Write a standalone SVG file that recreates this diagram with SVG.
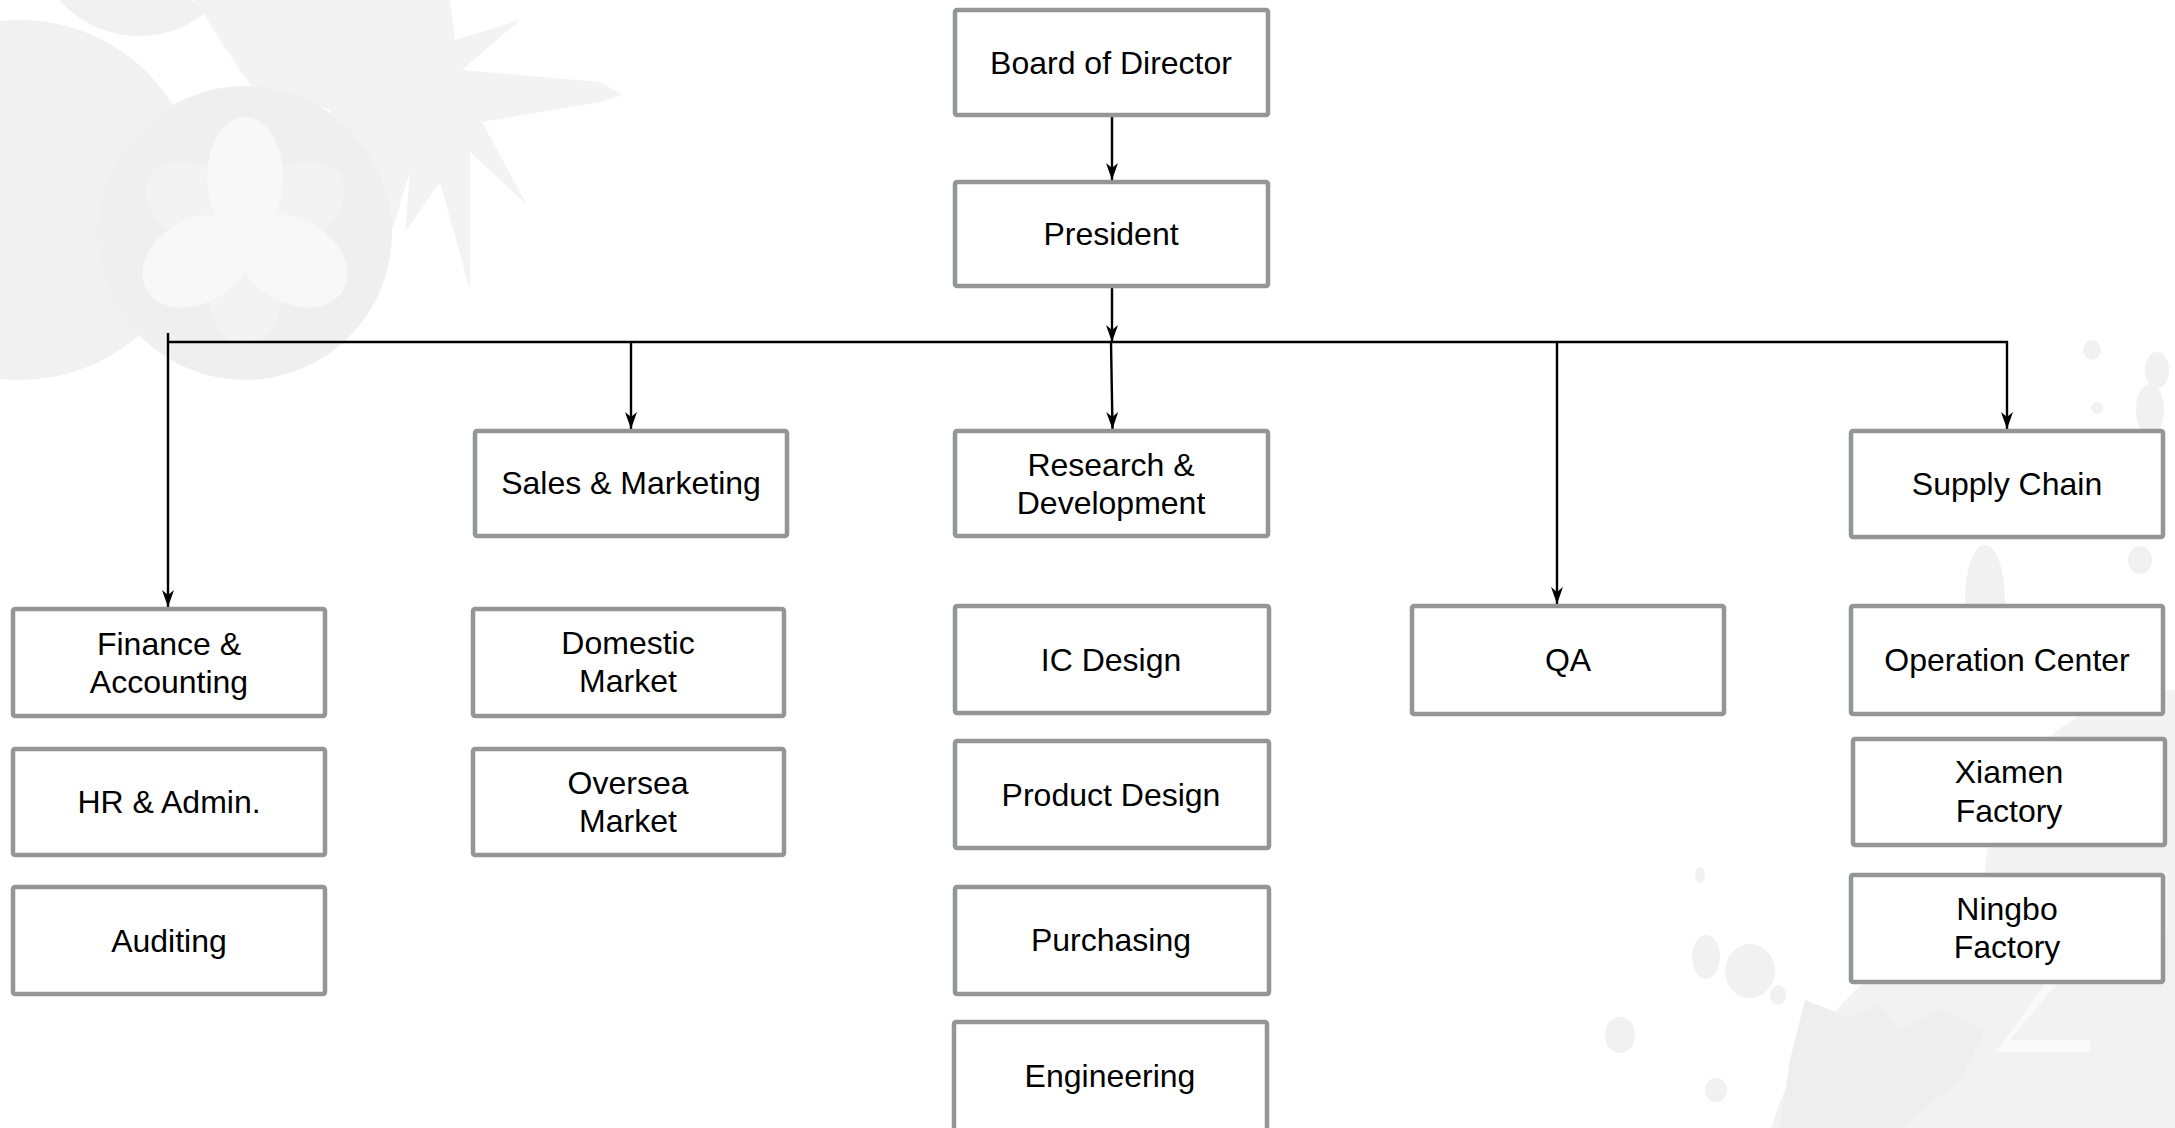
<svg xmlns="http://www.w3.org/2000/svg" width="2175" height="1128" viewBox="0 0 2175 1128">
  <style>
    .box { fill: #ffffff; stroke: #939598; stroke-width: 4.5; }
    .lbl { font-family: "Liberation Sans", Arial, sans-serif; font-size: 32px; fill: #000000; text-anchor: middle; }
    .conn { fill: none; stroke: #000000; stroke-width: 2.4; }
    .bg1 { fill: #f1f1f1; }
    .bg2 { fill: #ededed; }
    .petal { fill: #f8f8f8; }
    .petalb { fill: #f3f3f3; }
  </style>
  <defs>
    <marker id="arrow" viewBox="-18 -7 19 14" refX="0" refY="0" markerWidth="19" markerHeight="14" markerUnits="userSpaceOnUse" orient="auto">
      <path d="M0,0 L-17,-6 L-12,0 L-17,6 Z" fill="#000000"/>
    </marker>
  </defs>
  <rect x="0" y="0" width="2175" height="1128" fill="#ffffff"/>
  <g id="background">
    <circle class="bg2" cx="-150" cy="200" r="165"/>
    <circle class="bg1" cx="20" cy="200" r="180"/>
    <circle class="bg1" cx="139" cy="-70" r="106"/>
    <circle cx="215" cy="-25" r="35" fill="#f8f8f8"/>
    <path d="M195,0 L450,0 L455,40 L520,20 L462,70 L600,82 L622,95 L600,102 L482,122 L527,205 L470,152 L470,290 L440,182 L405,232 L410,172 L382,262 L368,200 L330,110 L250,85 L220,40 Z" fill="#f3f3f3"/>
    <circle cx="245" cy="233" r="147" fill="#efefef"/>
    <ellipse class="petalb" cx="293" cy="205" rx="38" ry="56" transform="rotate(-120 293 205)"/>
    <ellipse class="petalb" cx="197" cy="205" rx="38" ry="56" transform="rotate(120 197 205)"/>
    <ellipse class="petalb" cx="245" cy="289" rx="38" ry="56"/>
    <ellipse class="petal" cx="245" cy="177" rx="38" ry="60"/>
    <ellipse class="petal" cx="197" cy="261" rx="42" ry="58" transform="rotate(60 197 261)"/>
    <ellipse class="petal" cx="293" cy="261" rx="42" ry="58" transform="rotate(-60 293 261)"/>
    <circle cx="2175" cy="880" r="190" fill="#f3f3f3"/>
    <circle cx="2060" cy="1210" r="300" fill="#f2f2f2"/>
    <path d="M1805,1000 L1850,1018 L1880,1005 L1900,1030 L1940,1010 L1985,1030 L1960,1080 L1900,1128 L1780,1128 L1790,1060 Z" fill="#eeeeee"/>
    <path d="M1990,1060 L2070,950 L2078,958 L2010,1040 L2090,1040 L2090,1052 L1995,1052 Z" fill="#fafafa"/>
    <ellipse class="bg1" cx="1750" cy="971" rx="25" ry="27"/>
    <ellipse class="bg1" cx="1706" cy="957" rx="14" ry="22"/>
    <ellipse class="bg1" cx="1620" cy="1035" rx="15" ry="18"/>
    <ellipse class="bg1" cx="1716" cy="1090" rx="11" ry="12"/>
    <ellipse class="bg1" cx="1778" cy="995" rx="8" ry="10"/>
    <ellipse class="bg1" cx="1700" cy="875" rx="5" ry="8"/>
    <ellipse class="bg1" cx="1985" cy="600" rx="20" ry="55"/>
    <ellipse class="bg1" cx="2092" cy="350" rx="9" ry="10"/>
    <ellipse class="bg1" cx="2157" cy="370" rx="12" ry="18"/>
    <ellipse class="bg1" cx="2150" cy="410" rx="14" ry="26"/>
    <ellipse class="bg1" cx="2097" cy="408" rx="6" ry="6"/>
    <ellipse class="bg1" cx="2140" cy="560" rx="12" ry="14"/>
  </g>
  <g id="connectors">
    <line class="conn" x1="1112" y1="117" x2="1112" y2="180" marker-end="url(#arrow)"/>
    <line class="conn" x1="1112" y1="288" x2="1112" y2="342" marker-end="url(#arrow)"/>
    <line class="conn" x1="168" y1="342" x2="2008" y2="342"/>
    <line class="conn" x1="168" y1="333" x2="168" y2="607" marker-end="url(#arrow)"/>
    <line class="conn" x1="631" y1="342" x2="631" y2="429" marker-end="url(#arrow)"/>
    <line class="conn" x1="1111" y1="342" x2="1112.5" y2="429" marker-end="url(#arrow)"/>
    <line class="conn" x1="1557" y1="342" x2="1557" y2="604" marker-end="url(#arrow)"/>
    <line class="conn" x1="2007" y1="341" x2="2007" y2="429" marker-end="url(#arrow)"/>
  </g>
  <g id="board">
    <rect class="box" x="955" y="10" width="313" height="105" rx="2"/>
    <text class="lbl" x="1111" y="74">Board of Director</text>
  </g>
  <g id="president">
    <rect class="box" x="955" y="182" width="313" height="104" rx="2"/>
    <text class="lbl" x="1111" y="245">President</text>
  </g>
  <g id="sales">
    <rect class="box" x="475" y="431" width="312" height="105" rx="2"/>
    <text class="lbl" x="631" y="494">Sales &amp; Marketing</text>
  </g>
  <g id="rnd">
    <rect class="box" x="955" y="431" width="313" height="105" rx="2"/>
    <text class="lbl" x="1111" y="476">Research &amp;</text>
    <text class="lbl" x="1111" y="514">Development</text>
  </g>
  <g id="supply">
    <rect class="box" x="1851" y="431" width="312" height="106" rx="2"/>
    <text class="lbl" x="2007" y="495">Supply Chain</text>
  </g>
  <g id="finance">
    <rect class="box" x="13" y="609" width="312" height="107" rx="2"/>
    <text class="lbl" x="169" y="655">Finance &amp;</text>
    <text class="lbl" x="169" y="693">Accounting</text>
  </g>
  <g id="hr">
    <rect class="box" x="13" y="749" width="312" height="106" rx="2"/>
    <text class="lbl" x="169" y="813">HR &amp; Admin.</text>
  </g>
  <g id="auditing">
    <rect class="box" x="13" y="887" width="312" height="107" rx="2"/>
    <text class="lbl" x="169" y="952">Auditing</text>
  </g>
  <g id="domestic">
    <rect class="box" x="473" y="609" width="311" height="107" rx="2"/>
    <text class="lbl" x="628" y="654">Domestic</text>
    <text class="lbl" x="628" y="692">Market</text>
  </g>
  <g id="oversea">
    <rect class="box" x="473" y="749" width="311" height="106" rx="2"/>
    <text class="lbl" x="628" y="794">Oversea</text>
    <text class="lbl" x="628" y="832">Market</text>
  </g>
  <g id="icdesign">
    <rect class="box" x="955" y="606" width="314" height="107" rx="2"/>
    <text class="lbl" x="1111" y="671">IC Design</text>
  </g>
  <g id="productdesign">
    <rect class="box" x="955" y="741" width="314" height="107" rx="2"/>
    <text class="lbl" x="1111" y="806">Product Design</text>
  </g>
  <g id="purchasing">
    <rect class="box" x="955" y="887" width="314" height="107" rx="2"/>
    <text class="lbl" x="1111" y="951">Purchasing</text>
  </g>
  <g id="engineering">
    <rect class="box" x="954" y="1022" width="313" height="120" rx="2"/>
    <text class="lbl" x="1110" y="1087">Engineering</text>
  </g>
  <g id="qa">
    <rect class="box" x="1412" y="606" width="312" height="108" rx="2"/>
    <text class="lbl" x="1568" y="671">QA</text>
  </g>
  <g id="operation">
    <rect class="box" x="1851" y="606" width="312" height="108" rx="2"/>
    <text class="lbl" x="2007" y="671">Operation Center</text>
  </g>
  <g id="xiamen">
    <rect class="box" x="1853" y="739" width="312" height="106" rx="2"/>
    <text class="lbl" x="2009" y="783">Xiamen</text>
    <text class="lbl" x="2009" y="822">Factory</text>
  </g>
  <g id="ningbo">
    <rect class="box" x="1851" y="875" width="312" height="107" rx="2"/>
    <text class="lbl" x="2007" y="920">Ningbo</text>
    <text class="lbl" x="2007" y="958">Factory</text>
  </g>
</svg>
